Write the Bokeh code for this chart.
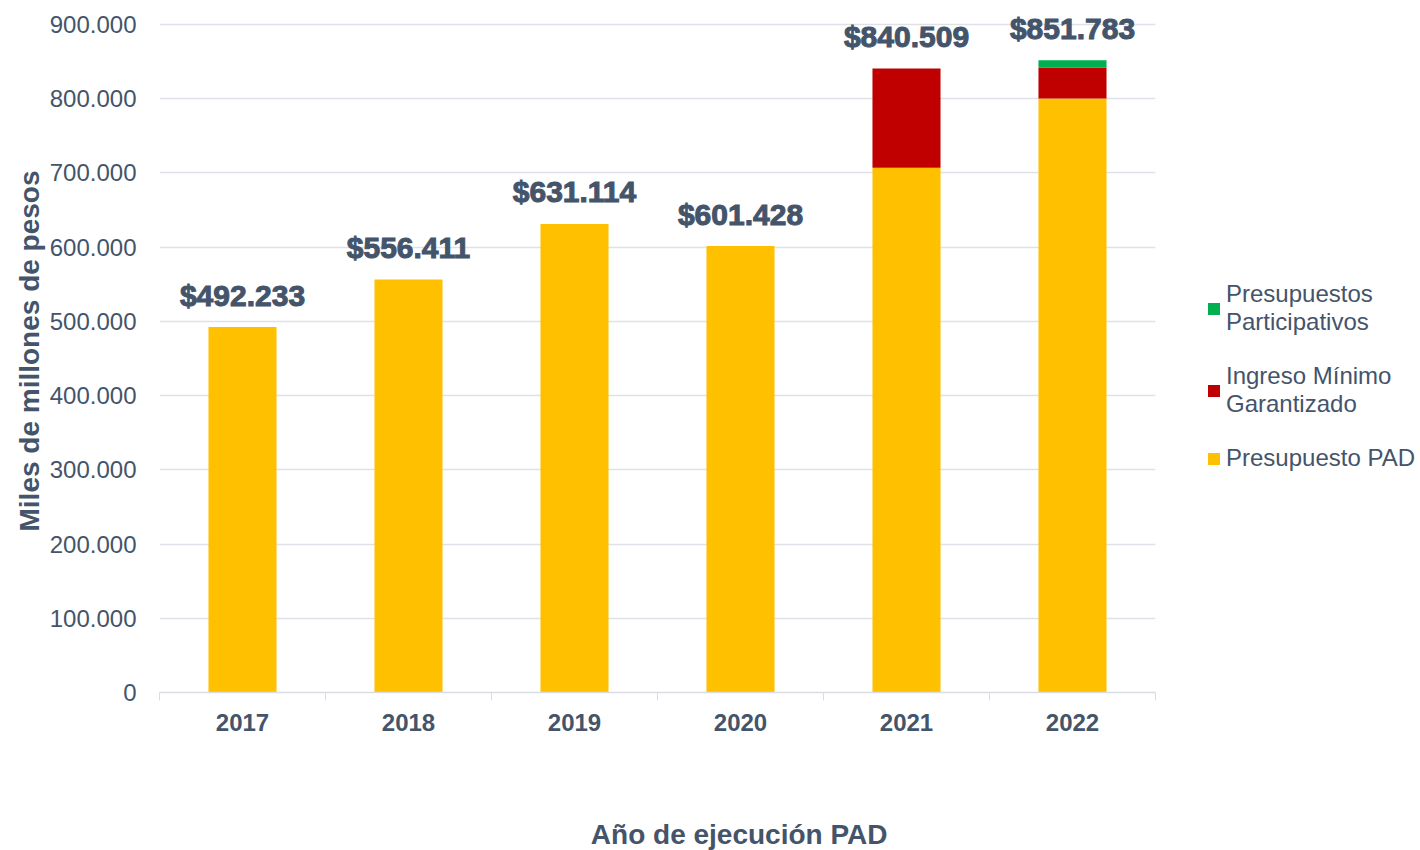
from bokeh.plotting import figure
from bokeh.models import ColumnDataSource, FixedTicker, Legend, LegendItem, Range1d
from bokeh.core.properties import value
from bokeh.embed import file_html
from bokeh.resources import INLINE

years = ["2017", "2018", "2019", "2020", "2021", "2022"]
presupuesto_pad = [492233, 556411, 631114, 601428, 707000, 800000]
ingreso_minimo = [0, 0, 0, 0, 133509, 42000]
presupuestos_part = [0, 0, 0, 0, 0, 9783]
totals = [492233, 556411, 631114, 601428, 840509, 851783]
total_labels = ["$492.233", "$556.411", "$631.114", "$601.428", "$840.509", "$851.783"]
y_ticks = [0, 100000, 200000, 300000, 400000, 500000, 600000, 700000, 800000, 900000]
y_tick_labels = ["0", "100.000", "200.000", "300.000", "400.000", "500.000",
                 "600.000", "700.000", "800.000", "900.000"]

TEXT = "#44546A"
FONT = "Liberation Sans"

xs = [i + 0.5 for i in range(len(years))]
b1 = presupuesto_pad
b2 = [a + b for a, b in zip(b1, ingreso_minimo)]
b3 = [a + b for a, b in zip(b2, presupuestos_part)]

src = ColumnDataSource(dict(
    x=xs, pad=presupuesto_pad, b1=b1, b2=b2, b3=b3,
    total=totals, label=total_labels,
))

p = figure(frame_width=996, frame_height=683, min_border_left=159, min_border_right=262,
           min_border_top=9, min_border_bottom=150,
           x_range=Range1d(0, 6), y_range=Range1d(0, 920000),
           output_backend="svg", toolbar_location=None, background_fill_color="white",
           border_fill_color="white")
p.outline_line_color = None

w = 0.41
r_pad = p.vbar(x="x", bottom=0, top="b1", width=w, source=src, fill_color="#FFC000", line_color=None)
r_img = p.vbar(x="x", bottom="b1", top="b2", width=w, source=src, fill_color="#C00000", line_color=None)
r_pp = p.vbar(x="x", bottom="b2", top="b3", width=w, source=src, fill_color="#00B050", line_color=None)

p.text(x="x", y="total", text="label", source=src, y_offset=-32,
       text_align="center", text_baseline="middle",
       text_font=value(FONT), text_font_style="bold", text_font_size="30px",
       text_color=TEXT, text_outline_color=TEXT)

# axes
p.xaxis.ticker = FixedTicker(ticks=xs, minor_ticks=list(range(len(years) + 1)))
p.xaxis.major_label_overrides = {x: y for x, y in zip(xs, years)}
p.xaxis.major_tick_line_color = None
p.xaxis.major_tick_out = 0
p.xaxis.major_tick_in = 0
p.xaxis.minor_tick_out = 8
p.xaxis.minor_tick_in = 0
p.xaxis.minor_tick_line_color = "#D9DDE3"
p.xaxis.axis_line_color = "#D9DDE3"
p.xaxis.axis_line_width = 1.5
p.xaxis.major_label_text_font = FONT
p.xaxis.major_label_text_font_style = "bold"
p.xaxis.major_label_text_font_size = "24px"
p.xaxis.major_label_text_color = TEXT
p.xaxis.major_label_standoff = 13
p.xaxis.axis_label = "\u00a0" * 21 + "Año de ejecución PAD"
p.xaxis.axis_label_text_font = FONT
p.xaxis.axis_label_text_font_style = "bold"
p.xaxis.axis_label_text_font_size = "28px"
p.xaxis.axis_label_text_color = TEXT
p.xaxis.axis_label_standoff = 85

p.yaxis.ticker = FixedTicker(ticks=y_ticks)
p.yaxis.major_label_overrides = {t: l for t, l in zip(y_ticks, y_tick_labels)}
p.yaxis.axis_line_color = None
p.yaxis.major_tick_line_color = None
p.yaxis.minor_tick_line_color = None
p.yaxis.major_label_standoff = 17
p.yaxis.major_label_text_font = FONT
p.yaxis.major_label_text_font_size = "24px"
p.yaxis.major_label_text_color = TEXT
p.yaxis.axis_label = "Miles de millones de pesos"
p.yaxis.axis_label_text_font = FONT
p.yaxis.axis_label_text_font_style = "bold"
p.yaxis.axis_label_text_font_size = "28px"
p.yaxis.axis_label_text_color = TEXT
p.yaxis.axis_label_standoff = 2

p.xgrid.grid_line_color = None
p.ygrid.grid_line_color = "#DEE2E8"
p.ygrid.grid_line_width = 1.5

legend = Legend(items=[
    LegendItem(label="Presupuestos\nParticipativos", renderers=[r_pp]),
    LegendItem(label="Ingreso Mínimo\nGarantizado", renderers=[r_img]),
    LegendItem(label="Presupuesto PAD", renderers=[r_pad]),
], location=(51, 220))
legend.border_line_color = None
legend.background_fill_alpha = 0
legend.margin = 0
legend.padding = 0
legend.glyph_width = 15
legend.glyph_height = 15
legend.label_text_font = FONT
legend.label_text_font_size = "24px"
legend.label_text_color = TEXT
legend.label_text_line_height = 1.15
legend.label_standoff = 5
legend.spacing = 26
p.add_layout(legend, "right")

open("out.html", "w").write(file_html(p, INLINE))
